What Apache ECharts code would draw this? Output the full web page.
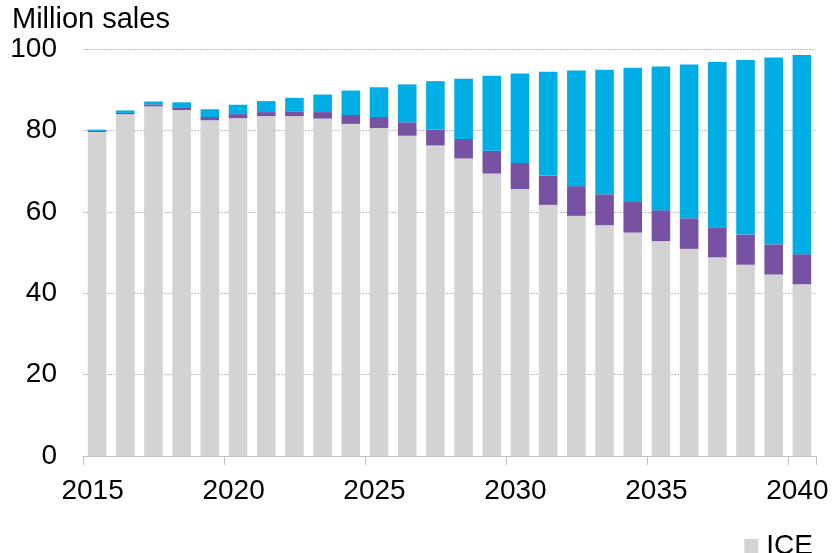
<!DOCTYPE html>
<html>
<head>
<meta charset="utf-8">
<script src="https://cdn.jsdelivr.net/npm/echarts@6/dist/echarts.min.js"></script>
<style>
  html, body { margin: 0; padding: 0; background: #fff; }
  #chart { width: 832px; height: 553px; }
</style>
</head>
<body>
<div id="chart"></div>
<script>
// years on the x axis
const years = [
  '2015', '2016', '2017', '2018', '2019', '2020', '2021', '2022', '2023',
  '2024', '2025', '2026', '2027', '2028', '2029', '2030', '2031', '2032',
  '2033', '2034', '2035', '2036', '2037', '2038', '2039', '2040'
]

// million sales
const iceSales = [
  79.6, 84.0, 85.9, 85.0, 82.5, 83.0, 83.5, 83.5, 82.9, 81.6, 80.6, 78.7, 76.3,
  73.1, 69.4, 65.6, 61.7, 59.0, 56.7, 54.9, 52.8, 50.9, 48.8, 47.0, 44.6, 42.2
]
const phevSales = [
  0.3, 0.3, 0.5, 0.7, 0.8, 1.0, 1.0, 1.2, 1.6, 2.2, 2.7, 3.3, 3.9,
  4.8, 5.6, 6.4, 7.2, 7.3, 7.6, 7.5, 7.6, 7.5, 7.4, 7.4, 7.4, 7.4
]
const bevSales = [
  0.3, 0.6, 0.7, 1.2, 1.9, 2.3, 2.7, 3.3, 4.3, 6.0, 7.3, 9.3, 11.9,
  14.8, 18.4, 22.0, 25.5, 28.4, 30.6, 33.0, 35.3, 37.8, 40.6, 42.9, 45.9, 48.9
]

const fontFamily = '"Liberation Sans", Arial, sans-serif'

const chart = echarts.init(document.getElementById('chart'))

const barSeries = (name, data, color) => ({
  name: name,
  type: 'bar',
  stack: 'sales',
  data: data,
  barCategoryGap: '34%',
  itemStyle: { color: color },
  emphasis: { disabled: true }
})

const option = {
  animation: false,
  textStyle: { fontFamily: fontFamily },
  title: {
    text: 'Million sales',
    left: 12,
    top: 5,
    padding: 0,
    textStyle: {
      fontFamily: fontFamily,
      fontSize: 29,
      fontWeight: 'normal',
      color: '#000'
    }
  },
  legend: {
    data: ['ICE'],
    right: 14,
    top: 527,
    itemWidth: 14,
    itemHeight: 14,
    itemGap: 0,
    icon: 'rect',
    textStyle: {
      fontFamily: fontFamily,
      fontSize: 28,
      color: '#000',
      padding: [0, 0, 0, 3]
    }
  },
  grid: {
    left: 83,
    right: 16,
    top: 49,
    bottom: 97,
    containLabel: false
  },
  xAxis: {
    type: 'category',
    data: years,
    axisLine: { lineStyle: { color: '#bfbfbf', width: 1 } },
    axisTick: { show: true, length: 9, interval: 4, lineStyle: { color: '#bfbfbf' } },
    axisLabel: {
      interval: 4,
      margin: 21,
      fontSize: 28,
      color: '#000',
      fontFamily: fontFamily,
      padding: [0, 9, 0, 0]
    }
  },
  yAxis: {
    type: 'value',
    min: 0,
    max: 100,
    interval: 20,
    axisLine: { show: false },
    axisTick: { show: false },
    axisLabel: {
      margin: 26,
      fontSize: 28,
      color: '#000',
      fontFamily: fontFamily
    },
    splitLine: {
      lineStyle: { color: '#bdbdbd', type: [2, 1], width: 1 }
    }
  },
  series: [
    barSeries('ICE', iceSales, '#d3d3d3'),
    barSeries('PHEV', phevSales, '#7752a2'),
    barSeries('BEV', bevSales, '#00aee6')
  ]
}

chart.setOption(option)
</script>
</body>
</html>
